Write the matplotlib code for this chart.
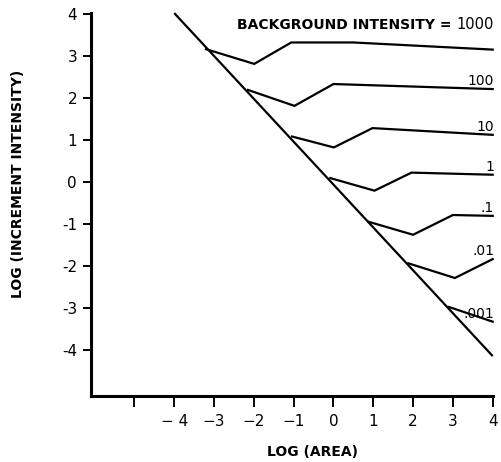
import numpy as np
import matplotlib
matplotlib.use("Agg")
import matplotlib.pyplot as plt

# curves: (log area, log increment intensity)
diag_x = [-4.0, 4.0]
diag_y = [4.02, -4.15]

backgrounds = ['1000', '100', '10', '1', '.1', '.01', '.001']
curve_x = {
    '1000': [-3.2, -1.99, -1.06, 0.5, 4.0],
    '100': [-2.15, -0.98, 0.0, 4.0],
    '10': [-1.04, 0.01, 0.98, 4.0],
    '1': [-0.08, 1.03, 1.96, 4.0],
    '.1': [0.88, 2.0, 3.0, 4.0],
    '.01': [1.88, 3.05, 4.0],
    '.001': [2.9, 4.0],
}
curve_y = {
    '1000': [3.16, 2.81, 3.32, 3.32, 3.15],
    '100': [2.19, 1.81, 2.33, 2.21],
    '10': [1.08, 0.82, 1.28, 1.12],
    '1': [0.09, -0.21, 0.22, 0.17],
    '.1': [-0.95, -1.26, -0.79, -0.81],
    '.01': [-1.94, -2.29, -1.84],
    '.001': [-2.98, -3.33],
}

xticks = [-5, -4, -3, -2, -1, 0, 1, 2, 3, 4]
xticklabels = ['', '\u2212 4', '\u22123', '\u22122', '\u22121', '0', '1', '2', '3', '4']
yticks = [-4, -3, -2, -1, 0, 1, 2, 3, 4]
yticklabels = ['-4', '-3', '-2', '-1', '0', '1', '2', '3', '4']

fig = plt.figure(figsize=(5.02, 4.62), dpi=100)
ax = fig.add_axes([0.1813, 0.1429, 0.8002, 0.8297])

lw = 1.6
ax.plot(diag_x, diag_y, color='black', lw=lw, clip_on=False, solid_capstyle='butt')
for b in backgrounds:
    ax.plot(curve_x[b], curve_y[b], color='black', lw=lw, clip_on=False,
            solid_joinstyle='miter')

# labels for each background level, sitting just above the line end
for b in backgrounds[1:]:
    ax.annotate(b, (curve_x[b][-1], curve_y[b][-1]), xytext=(1, 5.5),
                textcoords='offset points', ha='right', va='center',
                fontsize=10, family='DejaVu Sans')
ax.annotate('1000', (curve_x['1000'][-1], curve_y['1000'][-1]), xytext=(1, 18),
            textcoords='offset points', ha='right', va='center',
            fontsize=10.5, family='DejaVu Sans')
ax.text(0.900, 1 - 25 / 462, 'BACKGROUND INTENSITY =', transform=fig.transFigure,
        ha='right', va='center', fontsize=10, fontweight='heavy')

ax.set_xlim(-6.09, 4.0)
ax.set_ylim(-5.1, 4.03)
ax.set_xticks(xticks)
ax.set_xticklabels(xticklabels, fontsize=11)
ax.set_yticks(yticks)
ax.set_yticklabels(yticklabels, fontsize=11)
ax.tick_params(axis='both', direction='out', length=6, width=1.4, pad=4)
ax.tick_params(axis='x', pad=5, length=8)

for s in ['top', 'right']:
    ax.spines[s].set_visible(False)
for s in ['left', 'bottom']:
    ax.spines[s].set_linewidth(2.2)

fig.text(313 / 502, 1 - 452 / 462, 'LOG (AREA)', ha='center', va='center',
         fontsize=10, fontweight='heavy')
fig.text(18 / 502, 1 - 184 / 462, 'LOG (INCREMENT INTENSITY)', ha='center',
         va='center', rotation=90, fontsize=10, fontweight='heavy')

fig.savefig('out.png', dpi=100)
